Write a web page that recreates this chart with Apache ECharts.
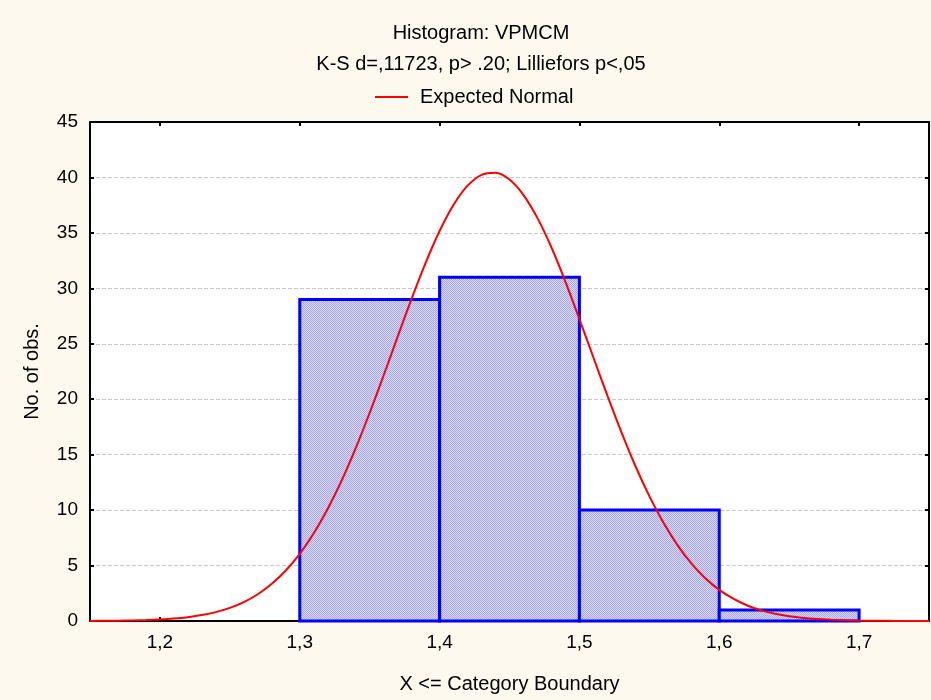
<!DOCTYPE html>
<html>
<head>
<meta charset="utf-8">
<script src="https://cdn.jsdelivr.net/npm/echarts@6/dist/echarts.min.js"></script>
<style>
html,body{margin:0;padding:0;background:#fef9ee;}
#chart{width:931px;height:700px;}
</style>
</head>
<body>
<div id="chart"></div>
<script>
const titleText = 'Histogram: VPMCM';
const subtitleText = 'K-S d=,11723, p> .20; Lilliefors p<,05';
const legendName = 'Expected Normal';
const xAxisName = 'X <= Category Boundary';
const yAxisName = 'No. of obs.';

const binStart = [1.3, 1.4, 1.5, 1.6];
const binEnd   = [1.4, 1.5, 1.6, 1.7];
const counts   = [29, 31, 10, 1];

const xTicks = [1.2, 1.3, 1.4, 1.5, 1.6, 1.7];
const yTicks = [0, 5, 10, 15, 20, 25, 30, 35, 40, 45];

const curveX = [1.15,1.16,1.17,1.18,1.19,1.20,1.21,1.22,1.23,1.24,1.25,1.26,1.27,1.28,1.29,1.30,1.31,1.32,1.33,1.34,1.35,1.36,1.37,1.38,1.39,1.40,1.41,1.42,1.43,1.44,1.45,1.46,1.47,1.48,1.49,1.50,1.51,1.52,1.53,1.54,1.55,1.56,1.57,1.58,1.59,1.60,1.61,1.62,1.63,1.64,1.65,1.66,1.67,1.68,1.69,1.70,1.71,1.72,1.73,1.74,1.75];
const curveY = [0.01,0.018,0.03,0.051,0.085,0.139,0.222,0.348,0.534,0.802,1.18,1.70,2.41,3.35,4.55,6.06,7.91,10.12,12.68,15.59,18.78,22.16,25.64,29.07,32.30,35.17,37.54,39.26,40.24,40.43,39.81,38.41,36.33,33.68,30.59,27.23,23.76,20.32,17.03,13.98,11.26,8.88,6.87,5.20,3.86,2.81,2.01,1.40,0.961,0.645,0.424,0.274,0.173,0.107,0.065,0.039,0.022,0.013,0.007,0.004,0.002];

const font = 'Liberation Sans, Arial, sans-serif';

// dithered fill pattern
const pc = document.createElement('canvas');
pc.width = 2; pc.height = 2;
const pctx = pc.getContext('2d');
pctx.fillStyle = '#dcdcfc'; pctx.fillRect(0,0,2,2);
pctx.fillStyle = '#a4a4f6'; pctx.fillRect(0,0,1,1); pctx.fillRect(1,1,1,1);
const pattern = {image: pc, repeat: 'repeat'};

const barData = binStart.map((s, i) => [s, binEnd[i], counts[i]]);
const lineData = curveX.map((x, i) => [x, curveY[i]]);

const comma = v => String(Math.round(v * 10) / 10).replace('.', ',');

const chart = echarts.init(document.getElementById('chart'));
chart.setOption({
  backgroundColor: '#fef9ee',
  animation: false,
  title: [
    {text: titleText, left: 476, top: 18, textAlign: 'center',
     textStyle: {fontFamily: font, fontSize: 20, fontWeight: 'normal', color: '#000'}},
    {text: subtitleText, left: 476, top: 49, textAlign: 'center',
     textStyle: {fontFamily: font, fontSize: 20, fontWeight: 'normal', color: '#000'}}
  ],
  legend: {
    data: [{name: legendName, icon: 'rect'}],
    left: 375, top: 87, padding: 0,
    itemWidth: 33, itemHeight: 2,
    textStyle: {fontFamily: font, fontSize: 20, color: '#000', padding: [0,0,0,7]}
  },
  grid: {left: 90, right: 2, top: 122, bottom: 79, show: true, backgroundColor: '#ffffff', borderWidth: 0},
  xAxis: [
    {type: 'value', min: 1.15, max: 1.75, position: 'bottom',
     name: xAxisName, nameLocation: 'middle', nameGap: 53,
     nameTextStyle: {fontFamily: font, fontSize: 20, color: '#000'},
     axisLine: {show: true, onZero: false, lineStyle: {color: '#000', width: 2}},
     axisTick: {show: true, inside: true, length: 4, customValues: xTicks, lineStyle: {color: '#000', width: 2}},
     axisLabel: {show: true, customValues: xTicks, formatter: comma, margin: 12,
                 fontFamily: font, fontSize: 19, color: '#000'},
     splitLine: {show: false}},
    {type: 'value', min: 1.15, max: 1.75, position: 'top',
     axisLine: {show: true, onZero: false, lineStyle: {color: '#000', width: 2}},
     axisTick: {show: true, inside: true, length: 4, customValues: xTicks, lineStyle: {color: '#000', width: 2}},
     axisLabel: {show: false}, splitLine: {show: false}}
  ],
  yAxis: [
    {type: 'value', min: 0, max: 45, interval: 5, position: 'left',
     name: yAxisName, nameLocation: 'middle', nameGap: 48, nameRotate: 90,
     nameTextStyle: {fontFamily: font, fontSize: 20, color: '#000'},
     axisLine: {show: true, lineStyle: {color: '#000', width: 2}},
     axisTick: {show: true, inside: true, length: 4, lineStyle: {color: '#000', width: 2}},
     axisLabel: {show: true, margin: 12, fontFamily: font, fontSize: 19, color: '#000',
                 formatter: v => yTicks.includes(v) ? String(v) : ''},
     splitLine: {show: true, lineStyle: {color: '#c8c8c8', width: 1, type: [4, 2]}}},
    {type: 'value', min: 0, max: 45, interval: 5, position: 'right',
     axisLine: {show: true, lineStyle: {color: '#000', width: 2}},
     axisTick: {show: true, inside: true, length: 4, lineStyle: {color: '#000', width: 2}},
     axisLabel: {show: false}, splitLine: {show: false}}
  ],
  series: [
    {type: 'custom', name: 'Histogram', xAxisIndex: 0, yAxisIndex: 0, z: 2,
     data: barData,
     renderItem: function (params, api) {
       const p1 = api.coord([api.value(0), api.value(2)]);
       const p2 = api.coord([api.value(1), 0]);
       return {
         type: 'rect',
         shape: {x: p1[0], y: p1[1], width: p2[0] - p1[0], height: p2[1] - p1[1]},
         style: {fill: pattern, stroke: '#0000ff', lineWidth: 3}
       };
     }},
    {type: 'line', name: legendName, xAxisIndex: 0, yAxisIndex: 0, z: 5,
     data: lineData, smooth: 0.3, showSymbol: false, symbol: 'none',
     lineStyle: {color: '#ff0000', width: 2}, itemStyle: {color: '#ff0000'}}
  ]
});
</script>
</body>
</html>
